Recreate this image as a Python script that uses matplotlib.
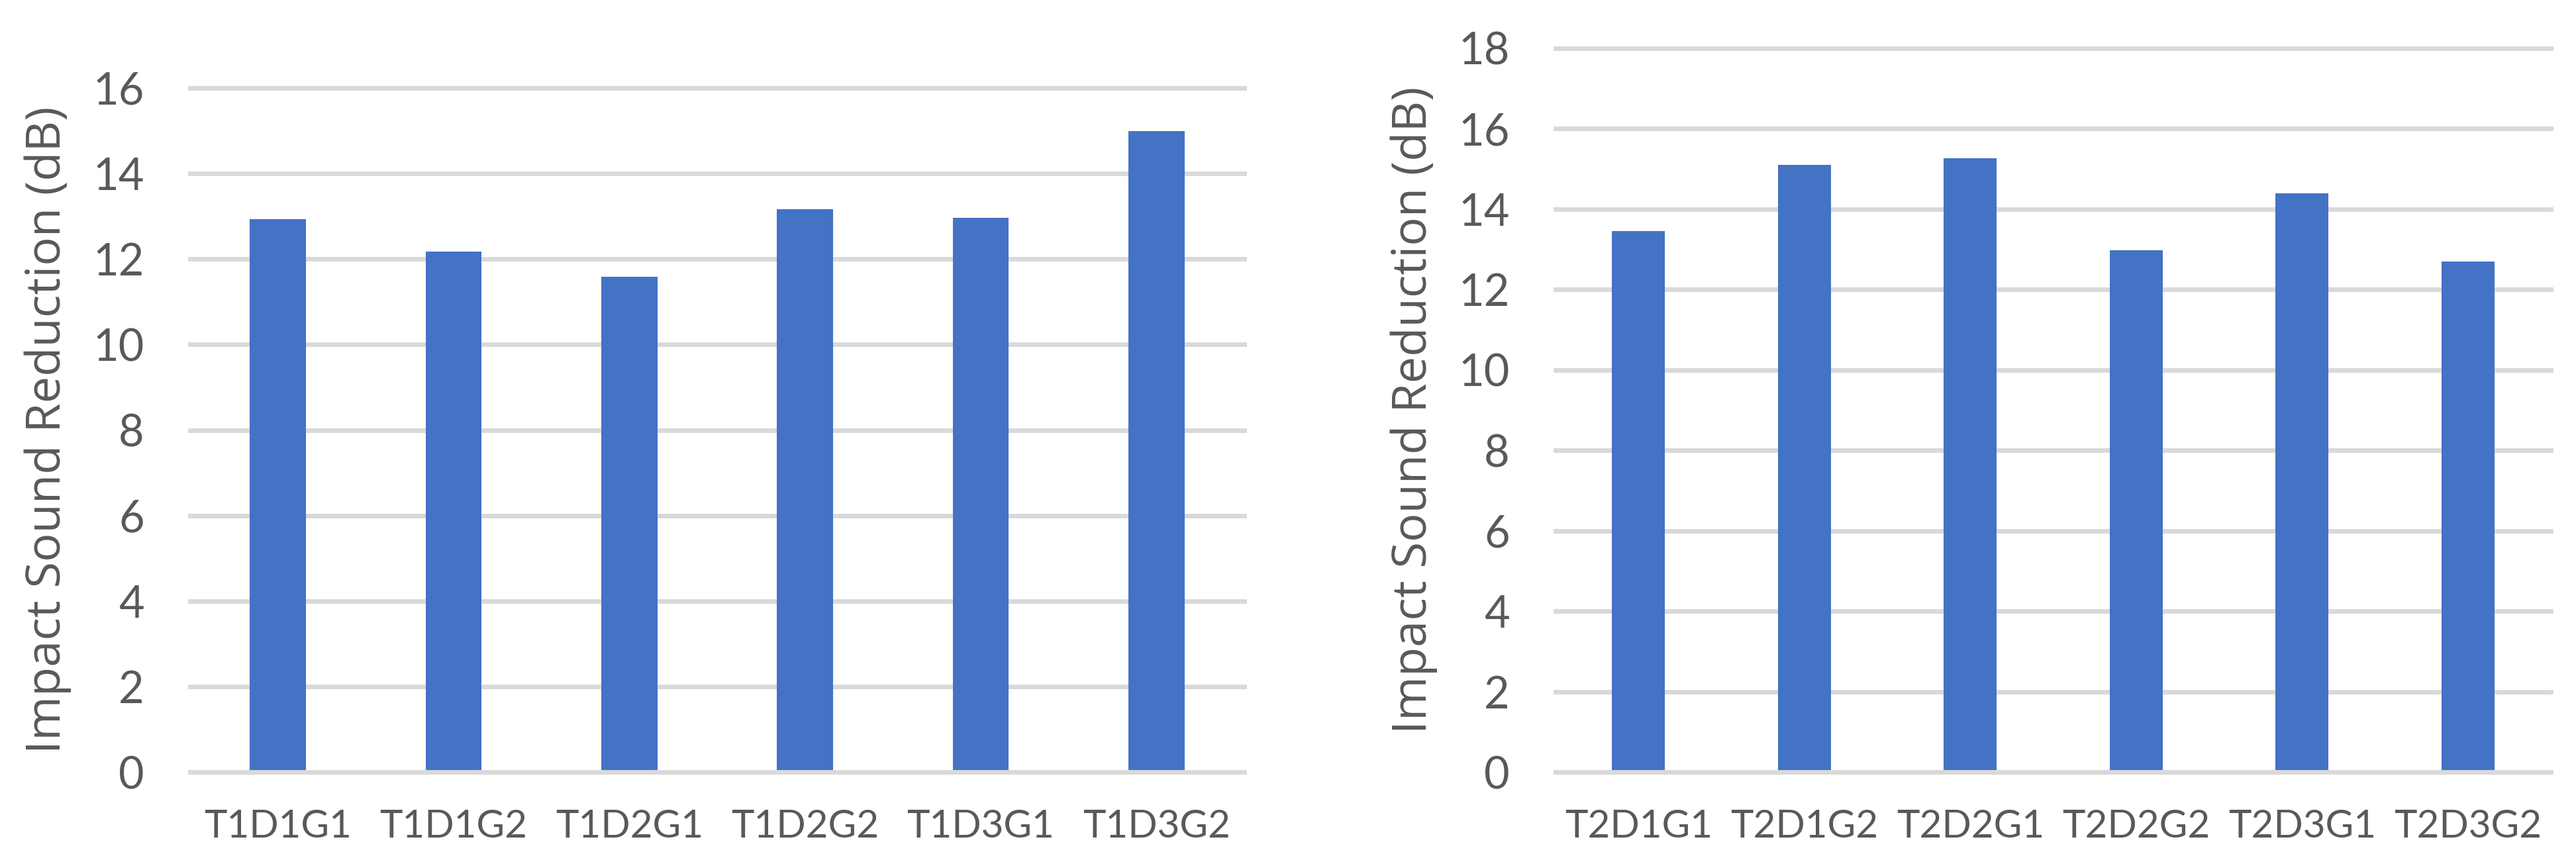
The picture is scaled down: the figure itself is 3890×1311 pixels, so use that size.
import matplotlib
matplotlib.use("Agg")
import matplotlib.pyplot as plt

plt.rcParams['font.family'] = ['Lato', 'DejaVu Sans']

# data
labels_t1 = ['T1D1G1', 'T1D1G2', 'T1D2G1', 'T1D2G2', 'T1D3G1', 'T1D3G2']
values_t1 = [12.93, 12.18, 11.58, 13.16, 12.97, 15.0]

labels_t2 = ['T2D1G1', 'T2D1G2', 'T2D2G1', 'T2D2G2', 'T2D3G1', 'T2D3G2']
values_t2 = [13.46, 15.10, 15.27, 12.97, 14.40, 12.69]

ylabel = 'Impact Sound Reduction (dB)'

W, H = 3891, 1311
bar_color = '#4472C4'
grid_color = '#D9D9D9'
text_color = '#595959'

fig = plt.figure(figsize=(W / 100, H / 100), dpi=100)
fig.patch.set_facecolor('white')

# axes placed in pixels: (left, right, top, bottom)
panels = [
    (labels_t1, values_t1, 16, (287, 1879, 133, 1166), 72),
    (labels_t2, values_t2, 18, (2349, 3852, 73, 1166), 2135),
]

for labels, values, ymax, (x0, x1, y0, y1), lab_x in panels:
    ax = fig.add_axes([x0 / W, 1 - y1 / H, (x1 - x0) / W, (y1 - y0) / H])
    xs = range(len(labels))
    ax.bar(xs, values, width=0.32, color=bar_color, zorder=2)
    ax.set_xlim(-0.5, len(labels) - 0.5)
    ax.set_ylim(0, ymax)
    ax.set_yticks(range(0, ymax + 1, 2))
    ax.set_xticks(list(xs))
    ax.set_xticklabels(labels)
    ax.yaxis.grid(True, color=grid_color, linewidth=5.0, zorder=0)
    ax.set_axisbelow(True)
    for gl in ax.get_ygridlines():
        gl.set_clip_on(False)
    for s in ['top', 'right', 'left']:
        ax.spines[s].set_visible(False)
    ax.spines['bottom'].set_color(grid_color)
    ax.spines['bottom'].set_linewidth(5.0)
    ax.spines['bottom'].set_zorder(3)
    ax.tick_params(axis='both', length=0, colors=text_color)
    ax.tick_params(axis='y', labelsize=48, pad=50)
    ax.tick_params(axis='x', labelsize=42, pad=40)
    fig.text(lab_x / W, 1 - ((y0 + y1) / 2) / H, ylabel, rotation=90,
             ha='center', va='center', fontsize=52, color=text_color,
             family=['Open Sans', 'DejaVu Sans'])

fig.savefig('out.png', dpi=100, facecolor='white')
